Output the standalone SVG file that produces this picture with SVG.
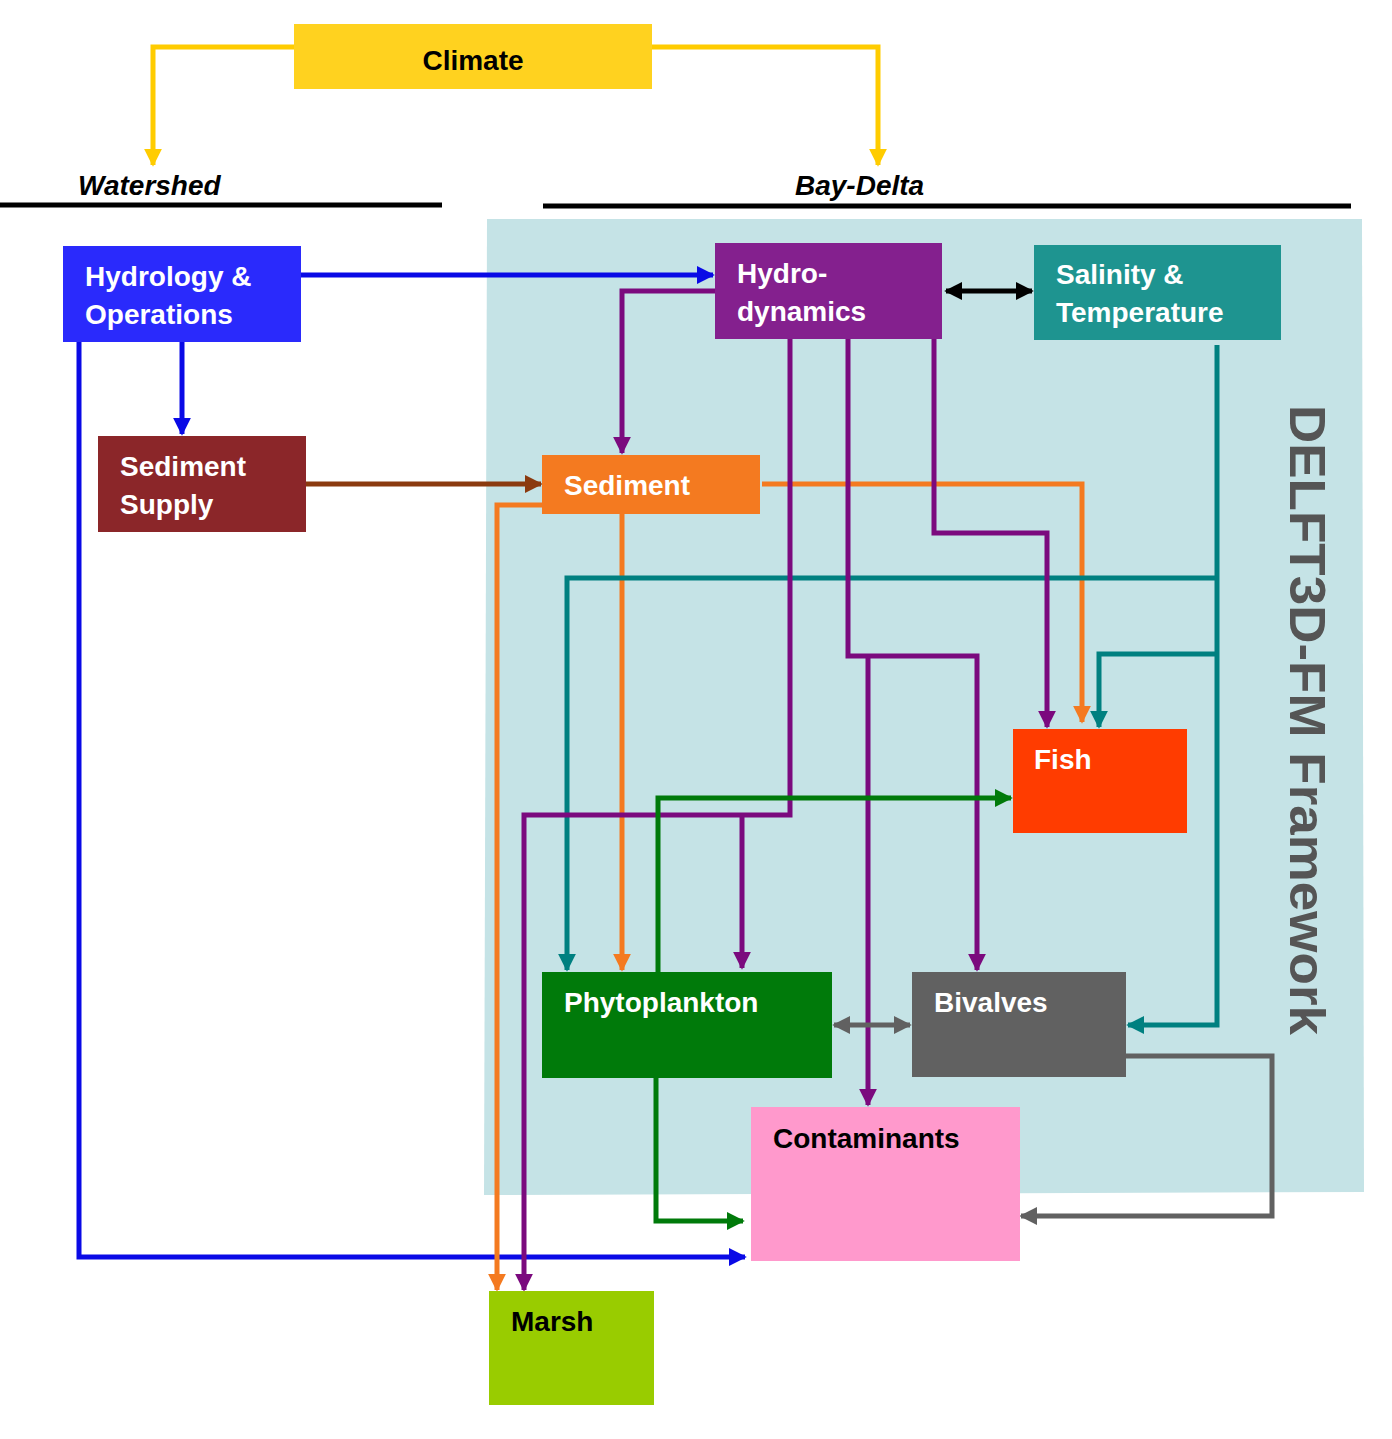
<svg xmlns="http://www.w3.org/2000/svg" width="1392" height="1439" viewBox="0 0 1392 1439">
<style>
.t{font-family:"Liberation Sans",Arial,sans-serif;font-weight:bold;font-size:28px;fill:#fff}
.k{fill:#000}
.c path{fill:none;stroke-width:5}
</style>
<defs>
<marker id="ay" viewBox="0 0 10 10" refX="9" refY="5" markerWidth="18" markerHeight="18" markerUnits="userSpaceOnUse" orient="auto-start-reverse"><path d="M0,0L10,5L0,10Z" fill="#ffcc00"/></marker>
<marker id="ab" viewBox="0 0 10 10" refX="9" refY="5" markerWidth="18" markerHeight="18" markerUnits="userSpaceOnUse" orient="auto-start-reverse"><path d="M0,0L10,5L0,10Z" fill="#0a0ae6"/></marker>
<marker id="abr" viewBox="0 0 10 10" refX="9" refY="5" markerWidth="18" markerHeight="18" markerUnits="userSpaceOnUse" orient="auto-start-reverse"><path d="M0,0L10,5L0,10Z" fill="#8b3a0f"/></marker>
<marker id="ak" viewBox="0 0 10 10" refX="9" refY="5" markerWidth="18" markerHeight="18" markerUnits="userSpaceOnUse" orient="auto-start-reverse"><path d="M0,0L10,5L0,10Z" fill="#000"/></marker>
<marker id="ap" viewBox="0 0 10 10" refX="9" refY="5" markerWidth="18" markerHeight="18" markerUnits="userSpaceOnUse" orient="auto-start-reverse"><path d="M0,0L10,5L0,10Z" fill="#7b0a7e"/></marker>
<marker id="ao" viewBox="0 0 10 10" refX="9" refY="5" markerWidth="18" markerHeight="18" markerUnits="userSpaceOnUse" orient="auto-start-reverse"><path d="M0,0L10,5L0,10Z" fill="#f47a20"/></marker>
<marker id="at" viewBox="0 0 10 10" refX="9" refY="5" markerWidth="18" markerHeight="18" markerUnits="userSpaceOnUse" orient="auto-start-reverse"><path d="M0,0L10,5L0,10Z" fill="#008080"/></marker>
<marker id="ag" viewBox="0 0 10 10" refX="9" refY="5" markerWidth="18" markerHeight="18" markerUnits="userSpaceOnUse" orient="auto-start-reverse"><path d="M0,0L10,5L0,10Z" fill="#007a0a"/></marker>
<marker id="aw" viewBox="0 0 10 10" refX="9" refY="5" markerWidth="18" markerHeight="18" markerUnits="userSpaceOnUse" orient="auto-start-reverse"><path d="M0,0L10,5L0,10Z" fill="#616161"/></marker>
</defs>
<rect width="1392" height="1439" fill="#fff"/>
<polygon points="487,219 1362,219 1364,1192 484,1195" fill="#c5e3e6"/>
<text x="1290" y="405" transform="rotate(90 1290 405)" font-family="Liberation Sans,Arial,sans-serif" font-weight="bold" font-size="50" fill="#555" textLength="630" lengthAdjust="spacingAndGlyphs">DELFT3D-FM  Framework</text>
<g id="headers">
<line x1="0" y1="205" x2="442" y2="205" stroke="#000" stroke-width="5"/>
<line x1="543" y1="206" x2="1351" y2="206" stroke="#000" stroke-width="5"/>
<text x="78" y="195" class="t k" font-style="italic" font-size="30">Watershed</text>
<text x="795" y="195" class="t k" font-style="italic" font-size="30">Bay-Delta</text>
</g>
<g class="c" id="connectors">
<path d="M294,47H153V165" stroke="#ffcc00" marker-end="url(#ay)"/>
<path d="M652,47H878V165" stroke="#ffcc00" marker-end="url(#ay)"/>
<path d="M301,275H713" stroke="#0a0ae6" marker-end="url(#ab)"/>
<path d="M182,342V434" stroke="#0a0ae6" marker-end="url(#ab)"/>
<path d="M79,342V1257H745" stroke="#0a0ae6" marker-end="url(#ab)"/>
<path d="M306,484H541" stroke="#8b3a0f" marker-end="url(#abr)"/>
<path d="M946,291H1032" stroke="#000" marker-start="url(#ak)" marker-end="url(#ak)"/>
<path d="M762,484H1082V722" stroke="#f47a20" marker-end="url(#ao)"/>
<path d="M622,514V970" stroke="#f47a20" marker-end="url(#ao)"/>
<path d="M548,505H497V1290" stroke="#f47a20" marker-end="url(#ao)"/>
<path d="M1217,345V1025H1128" stroke="#008080" marker-end="url(#at)"/>
<path d="M1217,578H567V970" stroke="#008080" marker-end="url(#at)"/>
<path d="M1217,654H1099V727" stroke="#008080" marker-end="url(#at)"/>
<path d="M715,291H622V453" stroke="#7b0a7e" marker-end="url(#ap)"/>
<path d="M790,339V815H524V1290" stroke="#7b0a7e" marker-end="url(#ap)"/>
<path d="M742,815V968" stroke="#7b0a7e" marker-end="url(#ap)"/>
<path d="M848,339V656H977V970" stroke="#7b0a7e" marker-end="url(#ap)"/>
<path d="M868,656V1105" stroke="#7b0a7e" marker-end="url(#ap)"/>
<path d="M934,339V533H1047V727" stroke="#7b0a7e" marker-end="url(#ap)"/>
<path d="M658,972V798H1011" stroke="#007a0a" marker-end="url(#ag)"/>
<path d="M656,1078V1221H743" stroke="#007a0a" marker-end="url(#ag)"/>
<path d="M834,1025H910" stroke="#616161" marker-start="url(#aw)" marker-end="url(#aw)"/>
<path d="M1126,1056H1272V1216H1021" stroke="#616161" marker-end="url(#aw)"/>
</g>
<g id="climate"><rect x="294" y="24" width="358" height="65" fill="#ffd21f"/><text x="473" y="70" class="t k" font-size="32" text-anchor="middle">Climate</text></g>
<g id="hydrology"><rect x="63" y="246" width="238" height="96" fill="#2a2afc"/><text x="85" y="286" class="t">Hydrology &amp;</text><text x="85" y="324" class="t">Operations</text></g>
<g id="hydrodynamics"><rect x="715" y="243" width="227" height="96" fill="#84208e"/><text x="737" y="283" class="t">Hydro-</text><text x="737" y="321" class="t">dynamics</text></g>
<g id="salinity"><rect x="1034" y="245" width="247" height="95" fill="#1e9490"/><text x="1056" y="284" class="t">Salinity &amp;</text><text x="1056" y="322" class="t">Temperature</text></g>
<g id="sediment-supply"><rect x="98" y="436" width="208" height="96" fill="#8b2629"/><text x="120" y="476" class="t">Sediment</text><text x="120" y="514" class="t">Supply</text></g>
<g id="sediment"><rect x="542" y="455" width="218" height="59" fill="#f47a20"/><text x="564" y="495" class="t">Sediment</text></g>
<g id="fish"><rect x="1013" y="729" width="174" height="104" fill="#ff3c00"/><text x="1034" y="769" class="t">Fish</text></g>
<g id="phytoplankton"><rect x="542" y="972" width="290" height="106" fill="#007a0a"/><text x="564" y="1012" class="t">Phytoplankton</text></g>
<g id="bivalves"><rect x="912" y="972" width="214" height="105" fill="#616161"/><text x="934" y="1012" class="t">Bivalves</text></g>
<g id="contaminants"><rect x="751" y="1107" width="269" height="154" fill="#ff99cc"/><text x="773" y="1148" class="t k">Contaminants</text></g>
<g id="marsh"><rect x="489" y="1291" width="165" height="114" fill="#99cc00"/><text x="511" y="1331" class="t k">Marsh</text></g>
</svg>
